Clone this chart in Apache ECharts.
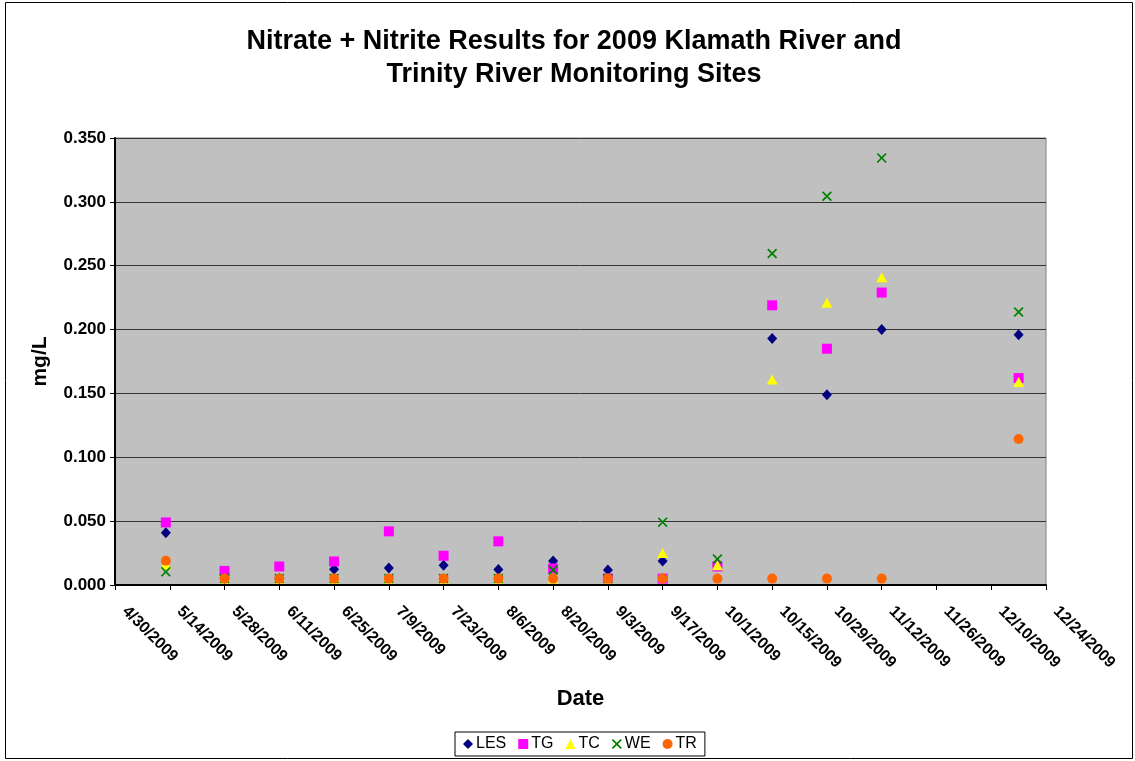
<!DOCTYPE html>
<html>
<head>
<meta charset="utf-8">
<script src="https://cdn.jsdelivr.net/npm/echarts@6/dist/echarts.min.js"></script>
<style>
html,body{margin:0;padding:0;background:#fff;}
#chart{width:1135px;height:761px;}
</style>
</head>
<body>
<div id="chart"></div>
<script>
const startDate = '2009-04-30';
const endDate = '2009-12-24';
const sampleDates = ['2009-05-13','2009-05-28','2009-06-11','2009-06-25','2009-07-09','2009-07-23','2009-08-06','2009-08-20','2009-09-03','2009-09-17','2009-10-01','2009-10-15','2009-10-29','2009-11-12','2009-12-17'];
const LES = [0.041, 0.005, 0.005, 0.0124, 0.0134, 0.0155, 0.0121, 0.0187, 0.0118, 0.0187, 0.015, 0.193, 0.149, 0.200, 0.196];
const TG  = [0.049, 0.011, 0.0145, 0.0184, 0.042, 0.0229, 0.0342, 0.0129, 0.005, 0.005, 0.0145, 0.219, 0.185, 0.229, 0.162];
const TC  = [0.016, 0.005, 0.005, 0.005, 0.005, 0.005, 0.005, 0.005, 0.005, 0.025, 0.0155, 0.161, 0.221, 0.241, 0.159];
const WE  = [0.0103, 0.005, 0.005, 0.005, 0.005, 0.005, 0.005, 0.0118, 0.005, 0.0492, 0.0203, 0.2596, 0.3044, 0.3344, 0.2138];
const TR  = [0.019, 0.005, 0.005, 0.005, 0.005, 0.005, 0.005, 0.005, 0.005, 0.005, 0.005, 0.005, 0.005, 0.005, 0.1143];
const seriesNames = ['LES','TG','TC','WE','TR'];
const yTicks = [0, 0.05, 0.1, 0.15, 0.2, 0.25, 0.3, 0.35];

const DAY = 86400000;
function toUTC(s){const p=s.split('-');return Date.UTC(+p[0],+p[1]-1,+p[2]);}
const t0 = toUTC(startDate);
function dayOff(s){return Math.round((toUTC(s)-t0)/DAY);}
function fmtDay(d){const dt=new Date(t0+d*DAY);return (dt.getUTCMonth()+1)+'/'+dt.getUTCDate()+'/'+dt.getUTCFullYear();}
const xs = sampleDates.map(dayOff);
function pts(arr){return arr.map((v,i)=>[xs[i],v]);}

const xPath = 'path://M0,1.2 L1.2,0 L5,3.8 L8.8,0 L10,1.2 L6.2,5 L10,8.8 L8.8,10 L5,6.2 L1.2,10 L0,8.8 L3.8,5 Z';
const styles = {
  LES:{symbol:'diamond',size:[10,11],color:'#000080'},
  TG:{symbol:'rect',size:10,color:'#FF00FF'},
  TC:{symbol:'triangle',size:[11,10],color:'#FFFF00'},
  WE:{symbol:xPath,size:10,color:'#008000'},
  TR:{symbol:'circle',size:10,color:'#FF6600'}
};
const dataMap = {LES, TG, TC, WE, TR};

const chart = echarts.init(document.getElementById('chart'), null, {renderer:'canvas'});
const font = 'Arial, "Liberation Sans", sans-serif';
chart.setOption({
  backgroundColor:'#fff',
  animation:false,
  textStyle:{fontFamily:font},
  title:{
    text:'Nitrate + Nitrite Results for 2009 Klamath River and\nTrinity River Monitoring Sites',
    left:569, textAlign:'center', top:20,
    textStyle:{fontFamily:font,fontSize:27,fontWeight:'bold',color:'#000',lineHeight:33}
  },
  graphic:[{type:'rect',shape:{x:5.5,y:2.5,width:1127,height:756},style:{fill:null,stroke:'#000',lineWidth:1},silent:true,z:-1}],
  grid:{left:115,right:89,top:138,bottom:176,show:true,backgroundColor:'#C0C0C0',borderColor:'#808080',borderWidth:1},
  xAxis:{
    type:'value', min:0, max:dayOff(endDate), interval:14,
    name:'Date', nameLocation:'middle', nameGap:103,
    nameTextStyle:{fontFamily:font,fontSize:22,fontWeight:'bold',color:'#000'},
    axisLine:{show:true,onZero:false,lineStyle:{color:'#000',width:2}},
    axisTick:{show:true,length:5,lineStyle:{color:'#000'}},
    splitLine:{show:false},
    axisLabel:{rotate:-45,margin:14,padding:[0,0,0,14],formatter:v=>fmtDay(v),fontFamily:font,fontSize:16,fontWeight:'bold',color:'#000'}
  },
  yAxis:{
    type:'value', min:yTicks[0], max:yTicks[yTicks.length-1], interval:0.05,
    name:'mg/L', nameLocation:'middle', nameGap:64,
    nameTextStyle:{fontFamily:font,fontSize:21,fontWeight:'bold',color:'#000'},
    axisLine:{show:true,lineStyle:{color:'#000',width:2}},
    axisTick:{show:true,length:5,lineStyle:{color:'#000'}},
    splitLine:{show:true,lineStyle:{color:'#333',width:1}},
    axisLabel:{formatter:v=>v.toFixed(3),margin:9,fontFamily:font,fontSize:17,fontWeight:'bold',color:'#000'}
  },
  legend:{
    bottom:5, left:455,
    data:seriesNames,
    itemWidth:10,itemHeight:10,itemGap:12,
    padding:[4,8],
    borderColor:'#000',borderWidth:1,borderRadius:0,
    textStyle:{fontFamily:font,fontSize:16,color:'#000',padding:[0,0,0,-2]}
  },
  series:seriesNames.map(n=>({
    name:n,type:'scatter',
    symbol:styles[n].symbol,symbolSize:styles[n].size,
    itemStyle:{color:styles[n].color,opacity:1},
    data:pts(dataMap[n])
  }))
});
</script>
</body>
</html>
